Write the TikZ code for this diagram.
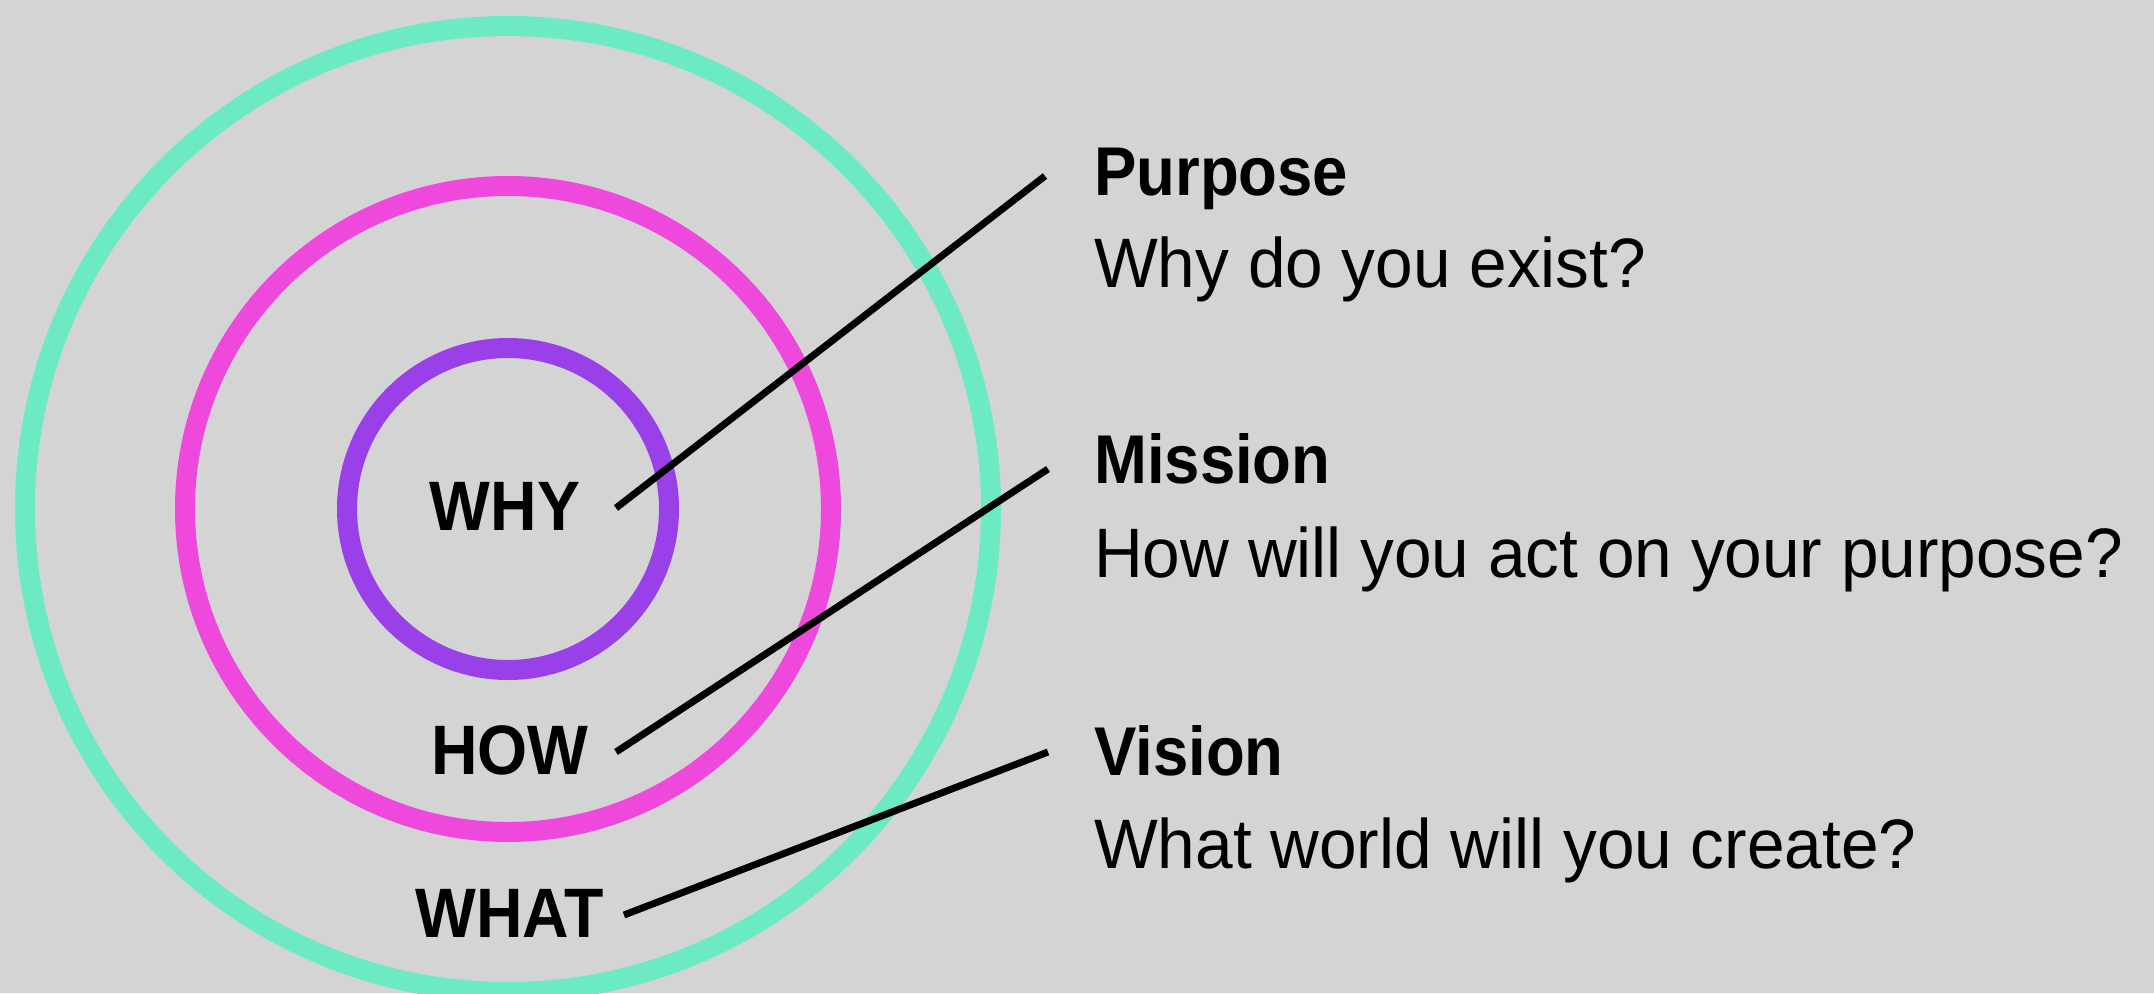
\documentclass[tikz,border=0pt]{standalone}
\usepackage{fontspec}
\setmainfont{Liberation Sans}
\newfontfamily\boldlbl[FakeStretch=0.92]{Liberation Sans Bold}
\newfontfamily\reglbl[FakeStretch=0.965]{Liberation Sans}
\definecolor{bgc}{RGB}{212,212,212}
\definecolor{greenc}{RGB}{107,234,195}
\definecolor{magc}{RGB}{238,72,221}
\definecolor{purc}{RGB}{154,64,233}
\tikzset{
  ring/.style={line width=20pt},
  leader/.style={line width=7pt, black},
  core/.style={inner sep=0pt, anchor=base, font=\boldlbl\fontsize{70}{84}\selectfont},
  title/.style={inner sep=0pt, anchor=base west, font=\boldlbl\fontsize{69}{83}\selectfont},
  sub/.style={inner sep=0pt, anchor=base west, font=\reglbl\fontsize{70}{84}\selectfont},
}
\begin{document}
\begin{tikzpicture}[x=1pt,y=-1pt]
\fill[bgc] (0,0) rectangle (2154,993);
\useasboundingbox (0,0) rectangle (2154,993);
\coordinate (c) at (508,509);
\draw[ring, greenc] (c) circle[radius=483];
\draw[ring, magc] (c) circle[radius=323];
\draw[ring, purc] (c) circle[radius=161];
\node[core] (why) at (505,530.5) {WHY};
\node[core] (how) at (510,774) {HOW};
\node[core] (what) at (509.5,937) {WHAT};
\node[title] (purpose) at (1094,195) {Purpose};
\node[sub] (purposeq) at (1094,287) {Why do you exist?};
\node[title] (mission) at (1094,483) {Mission};
\node[sub] (missionq) at (1094,577) {How will you act on your purpose?};
\node[title] (vision) at (1094,775) {Vision};
\node[sub] (visionq) at (1094,868) {What world will you create?};
\coordinate (a1) at (616,508);
\coordinate (b1) at (1045,176);
\coordinate (a2) at (616,752);
\coordinate (b2) at (1048,469);
\coordinate (a3) at (624,915);
\coordinate (b3) at (1048,752);
\draw[leader] (a1) -- (b1);
\draw[leader] (a2) -- (b2);
\draw[leader] (a3) -- (b3);
\end{tikzpicture}
\end{document}
